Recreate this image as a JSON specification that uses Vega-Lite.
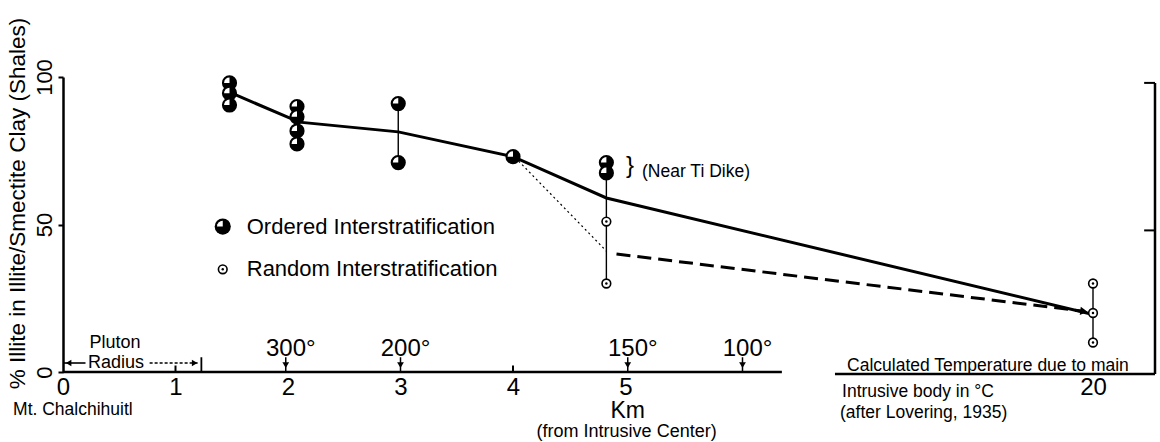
{
  "$schema": "https://vega.github.io/schema/vega-lite/v6.json",
  "width": 1092,
  "height": 295,
  "autosize": {"type": "none"},
  "padding": {"left": 63, "top": 77, "right": 5, "bottom": 70},
  "background": "white",
  "config": {
    "view": {"stroke": null},
    "font": "Liberation Sans",
    "text": {"font": "Liberation Sans", "color": "black"}
  },
  "datasets": {
    "solid": [
      {"km": 1.5, "pct": 94.5},
      {"km": 2.1, "pct": 84.7},
      {"km": 2.98, "pct": 81.4},
      {"km": 4.0, "pct": 73},
      {"km": 4.83, "pct": 59},
      {"km": 20, "pct": 19.5}
    ],
    "dashed": [
      {"km": 4.92, "pct": 40},
      {"km": 19.6, "pct": 20.6}
    ],
    "dotted": [
      {"km": 4.05, "pct": 71.5},
      {"km": 4.83, "pct": 41}
    ],
    "connectors": [
      {"km": 2.98, "lo": 71, "hi": 91},
      {"km": 4.83, "lo": 30, "hi": 67},
      {"km": 20, "lo": 10, "hi": 30}
    ],
    "ordered": [
      {"km": 1.48, "pct": 98},
      {"km": 1.48, "pct": 94.5},
      {"km": 1.48, "pct": 90.5},
      {"km": 2.08, "pct": 90},
      {"km": 2.08, "pct": 86.5},
      {"km": 2.08, "pct": 81.7},
      {"km": 2.08, "pct": 77.3},
      {"km": 2.98, "pct": 91},
      {"km": 2.98, "pct": 71},
      {"km": 4.0, "pct": 73},
      {"km": 4.83, "pct": 71},
      {"km": 4.83, "pct": 67.5}
    ],
    "random": [
      {"km": 4.83, "pct": 51},
      {"km": 4.83, "pct": 30},
      {"km": 20, "pct": 30},
      {"km": 20, "pct": 20},
      {"km": 20, "pct": 10}
    ],
    "key": [
      {"km": 1.42, "pct": 49.3, "type": "Ordered", "label": "Ordered  Interstratification"},
      {"km": 1.42, "pct": 34.8, "type": "Random", "label": "Random  Interstratification"}
    ],
    "temps": [
      {"km": 1.98, "label": "300°"},
      {"km": 3.0, "label": "200°"},
      {"km": 5.02, "label": "150°"},
      {"km": 6.04, "label": "100°"}
    ],
    "xaxisline": [
      {"from": 0, "to": 6.39, "pct": 0},
      {"from": 8.68, "to": 22, "pct": -0.7}
    ],
    "rightaxis": [
      {"km": 22, "lo": -0.7, "hi": 98}
    ],
    "rticks": [
      {"from": 21.65, "to": 22, "pct": 98},
      {"from": 21.65, "to": 22, "pct": 48}
    ],
    "minorticks": [
      {"km": 1},
      {"km": 4}
    ],
    "smallnotes": [
      {"km": -0.444, "pct": -12.9, "text": "Mt. Chalchihuitl"},
      {"km": 5.147, "pct": 67.8, "text": "(Near Ti Dike)"},
      {"km": 9.21, "pct": 2.0, "text": "Calculated Temperature due to main"},
      {"km": 8.99, "pct": -6.8, "text": "Intrusive body in °C"},
      {"km": 8.9, "pct": -13.9, "text": "(after Lovering, 1935)"}
    ],
    "pluton": [
      {"km": 0.462, "pct": 9.9, "text": "Pluton"},
      {"km": 0.471, "pct": 3.2, "text": "Radius"}
    ],
    "kmtitle": [
      {"km": 5.02, "pct": -13.2, "text": "Km"}
    ],
    "kmsub": [
      {"km": 5.01, "pct": -20.3, "text": "(from Intrusive Center)"}
    ],
    "bracket": [
      {"km": 5.04, "pct": 69.8, "text": "}"}
    ]
  },
  "layer": [
    {
      "data": {"name": "solid"},
      "mark": {"type": "line", "stroke": "black", "strokeWidth": 3},
      "encoding": {
        "x": {
          "field": "km", "type": "quantitative",
          "scale": {"type": "linear", "domain": [0, 6.4, 20, 22], "range": [0, 720, 1030, 1092], "nice": false, "zero": false},
          "axis": {"title": null, "values": [0, 1, 2, 3, 4, 5, 20], "domain": false, "ticks": false, "grid": false,
                   "labelFontSize": 24, "labelFont": "Liberation Sans", "labelColor": "black", "labelPadding": 3,
                   "labelFlush": false, "labelOverlap": false, "format": "d"}
        },
        "y": {
          "field": "pct", "type": "quantitative",
          "scale": {"domain": [0, 100], "nice": false, "zero": false},
          "axis": {"title": "% Illite in Illite/Smectite Clay (Shales)", "values": [0, 50, 100], "grid": false,
                   "domainColor": "black", "domainWidth": 2.5, "tickColor": "black", "tickSize": 5, "tickWidth": 2,
                   "labelAngle": 270, "labelFontSize": 22, "labelFont": "Liberation Sans", "labelColor": "black",
                   "labelPadding": 2, "labelFlush": false, "labelOverlap": false,
                   "titleFont": "Liberation Sans", "titleFontSize": 22.5, "titleFontWeight": "normal", "titleColor": "black",
                   "titlePadding": 4, "titleY": 126}
        }
      }
    },
    {
      "data": {"name": "dashed"},
      "mark": {"type": "line", "stroke": "black", "strokeWidth": 3, "strokeDash": [14, 7]},
      "encoding": {"x": {"field": "km", "type": "quantitative"}, "y": {"field": "pct", "type": "quantitative"}}
    },
    {
      "data": {"name": "dotted"},
      "mark": {"type": "line", "stroke": "black", "strokeWidth": 1.2, "strokeDash": [2, 3]},
      "encoding": {"x": {"field": "km", "type": "quantitative"}, "y": {"field": "pct", "type": "quantitative"}}
    },
    {
      "data": {"name": "connectors"},
      "mark": {"type": "rule", "stroke": "black", "strokeWidth": 1.4},
      "encoding": {"x": {"field": "km", "type": "quantitative"}, "y": {"field": "lo", "type": "quantitative"}, "y2": {"field": "hi"}}
    },
    {
      "data": {"name": "xaxisline"},
      "mark": {"type": "rule", "stroke": "black", "strokeWidth": 2.5},
      "encoding": {"x": {"field": "from", "type": "quantitative"}, "x2": {"field": "to"}, "y": {"field": "pct", "type": "quantitative"}}
    },
    {
      "data": {"name": "rightaxis"},
      "mark": {"type": "rule", "stroke": "black", "strokeWidth": 2.5},
      "encoding": {"x": {"field": "km", "type": "quantitative"}, "y": {"field": "lo", "type": "quantitative"}, "y2": {"field": "hi"}}
    },
    {
      "data": {"name": "rticks"},
      "mark": {"type": "rule", "stroke": "black", "strokeWidth": 2},
      "encoding": {"x": {"field": "from", "type": "quantitative"}, "x2": {"field": "to"}, "y": {"field": "pct", "type": "quantitative"}}
    },
    {
      "data": {"name": "minorticks"},
      "mark": {"type": "rule", "stroke": "black", "strokeWidth": 2},
      "encoding": {"x": {"field": "km", "type": "quantitative"}, "y": {"datum": 0}, "y2": {"datum": 2.2}}
    },
    {
      "data": {"name": "ordered"},
      "mark": {"type": "point", "shape": "circle", "filled": true, "fill": "black", "opacity": 1, "size": 230},
      "encoding": {"x": {"field": "km", "type": "quantitative"}, "y": {"field": "pct", "type": "quantitative"}}
    },
    {
      "data": {"name": "ordered"},
      "mark": {"type": "point", "shape": "M0,0 L-0.72,0 L-0.665,-0.276 L-0.509,-0.509 L-0.276,-0.665 L0,-0.72 Z", "filled": true, "fill": "white", "opacity": 1, "size": 230, "strokeWidth": 0},
      "encoding": {"x": {"field": "km", "type": "quantitative"}, "y": {"field": "pct", "type": "quantitative"}}
    },
    {
      "data": {"name": "random"},
      "mark": {"type": "point", "shape": "circle", "filled": false, "fill": "white", "fillOpacity": 1, "stroke": "black", "strokeWidth": 1.6, "opacity": 1, "size": 75},
      "encoding": {"x": {"field": "km", "type": "quantitative"}, "y": {"field": "pct", "type": "quantitative"}}
    },
    {
      "data": {"name": "random"},
      "mark": {"type": "point", "shape": "circle", "filled": true, "fill": "black", "opacity": 1, "size": 6},
      "encoding": {"x": {"field": "km", "type": "quantitative"}, "y": {"field": "pct", "type": "quantitative"}}
    },
    {
      "data": {"name": "dashed"},
      "transform": [{"filter": "datum.km > 19"}],
      "mark": {"type": "point", "shape": "triangle-right", "filled": true, "fill": "black", "opacity": 1, "size": 70, "angle": 7},
      "encoding": {"x": {"field": "km", "type": "quantitative"}, "y": {"field": "pct", "type": "quantitative"}}
    },
    {
      "data": {"name": "key"},
      "transform": [{"filter": "datum.type == 'Ordered'"}],
      "mark": {"type": "point", "shape": "circle", "filled": true, "fill": "black", "opacity": 1, "size": 260},
      "encoding": {"x": {"field": "km", "type": "quantitative"}, "y": {"field": "pct", "type": "quantitative"}}
    },
    {
      "data": {"name": "key"},
      "transform": [{"filter": "datum.type == 'Ordered'"}],
      "mark": {"type": "point", "shape": "M0,0 L-0.72,0 L-0.665,-0.276 L-0.509,-0.509 L-0.276,-0.665 L0,-0.72 Z", "filled": true, "fill": "white", "opacity": 1, "size": 260, "strokeWidth": 0},
      "encoding": {"x": {"field": "km", "type": "quantitative"}, "y": {"field": "pct", "type": "quantitative"}}
    },
    {
      "data": {"name": "key"},
      "transform": [{"filter": "datum.type == 'Random'"}],
      "mark": {"type": "point", "shape": "circle", "filled": false, "fill": "white", "fillOpacity": 1, "stroke": "black", "strokeWidth": 1.6, "opacity": 1, "size": 75},
      "encoding": {"x": {"field": "km", "type": "quantitative"}, "y": {"field": "pct", "type": "quantitative"}}
    },
    {
      "data": {"name": "key"},
      "transform": [{"filter": "datum.type == 'Random'"}],
      "mark": {"type": "point", "shape": "circle", "filled": true, "fill": "black", "opacity": 1, "size": 6},
      "encoding": {"x": {"field": "km", "type": "quantitative"}, "y": {"field": "pct", "type": "quantitative"}}
    },
    {
      "data": {"name": "key"},
      "mark": {"type": "text", "align": "left", "baseline": "middle", "fontSize": 22, "dx": 24, "font": "Liberation Sans"},
      "encoding": {"x": {"field": "km", "type": "quantitative"}, "y": {"field": "pct", "type": "quantitative"}, "text": {"field": "label"}}
    },
    {
      "data": {"name": "temps"},
      "mark": {"type": "text", "align": "center", "baseline": "alphabetic", "fontSize": 24, "dx": 5, "font": "Liberation Sans"},
      "encoding": {"x": {"field": "km", "type": "quantitative"}, "y": {"datum": 5.4}, "text": {"field": "label"}}
    },
    {
      "data": {"name": "temps"},
      "mark": {"type": "rule", "stroke": "black", "strokeWidth": 1.5},
      "encoding": {"x": {"field": "km", "type": "quantitative"}, "y": {"datum": 0}, "y2": {"datum": 5}}
    },
    {
      "data": {"name": "temps"},
      "mark": {"type": "point", "shape": "triangle-down", "filled": true, "fill": "black", "opacity": 1, "size": 45},
      "encoding": {"x": {"field": "km", "type": "quantitative"}, "y": {"datum": 2.3}}
    },
    {
      "data": {"name": "pluton"},
      "mark": {"type": "text", "align": "center", "baseline": "middle", "fontSize": 18, "font": "Liberation Sans"},
      "encoding": {"x": {"field": "km", "type": "quantitative"}, "y": {"field": "pct", "type": "quantitative"}, "text": {"field": "text"}}
    },
    {
      "data": {"values": [{"from": 0, "to": 0.2}]},
      "mark": {"type": "rule", "stroke": "black", "strokeWidth": 1.6},
      "encoding": {"x": {"field": "from", "type": "quantitative"}, "x2": {"field": "to"}, "y": {"datum": 3.05}}
    },
    {
      "data": {"values": [{"from": 0.77, "to": 1.2}]},
      "mark": {"type": "rule", "stroke": "black", "strokeWidth": 1.6, "strokeDash": [3, 2]},
      "encoding": {"x": {"field": "from", "type": "quantitative"}, "x2": {"field": "to"}, "y": {"datum": 3.05}}
    },
    {
      "data": {"values": [{"km": 0.05, "dir": "left"}]},
      "mark": {"type": "point", "shape": "triangle-left", "filled": true, "fill": "black", "opacity": 1, "size": 40},
      "encoding": {"x": {"field": "km", "type": "quantitative"}, "y": {"datum": 3.05}}
    },
    {
      "data": {"values": [{"km": 1.17, "dir": "right"}]},
      "mark": {"type": "point", "shape": "triangle-right", "filled": true, "fill": "black", "opacity": 1, "size": 40},
      "encoding": {"x": {"field": "km", "type": "quantitative"}, "y": {"datum": 3.05}}
    },
    {
      "data": {"values": [{"km": 1.23}]},
      "mark": {"type": "rule", "stroke": "black", "strokeWidth": 1.8},
      "encoding": {"x": {"field": "km", "type": "quantitative"}, "y": {"datum": 0}, "y2": {"datum": 5}}
    },
    {
      "data": {"name": "smallnotes"},
      "mark": {"type": "text", "align": "left", "baseline": "middle", "fontSize": 17.5, "font": "Liberation Sans"},
      "encoding": {"x": {"field": "km", "type": "quantitative"}, "y": {"field": "pct", "type": "quantitative"}, "text": {"field": "text"}}
    },
    {
      "data": {"name": "kmtitle"},
      "mark": {"type": "text", "align": "center", "baseline": "middle", "fontSize": 23, "font": "Liberation Sans"},
      "encoding": {"x": {"field": "km", "type": "quantitative"}, "y": {"field": "pct", "type": "quantitative"}, "text": {"field": "text"}}
    },
    {
      "data": {"name": "kmsub"},
      "mark": {"type": "text", "align": "center", "baseline": "middle", "fontSize": 18, "font": "Liberation Sans"},
      "encoding": {"x": {"field": "km", "type": "quantitative"}, "y": {"field": "pct", "type": "quantitative"}, "text": {"field": "text"}}
    },
    {
      "data": {"name": "bracket"},
      "mark": {"type": "text", "align": "center", "baseline": "middle", "fontSize": 24, "font": "Liberation Sans"},
      "encoding": {"x": {"field": "km", "type": "quantitative"}, "y": {"field": "pct", "type": "quantitative"}, "text": {"field": "text"}}
    }
  ]
}
